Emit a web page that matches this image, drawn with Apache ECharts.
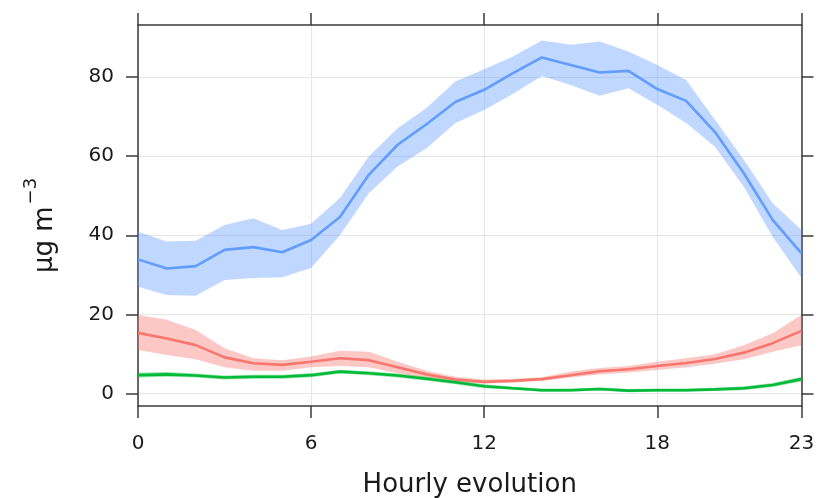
<!DOCTYPE html>
<html>
<head>
<meta charset="utf-8">
<script src="https://cdn.jsdelivr.net/npm/echarts@6/dist/echarts.min.js"></script>
<style>html,body{margin:0;padding:0;background:#fff;}#c{width:821px;height:498px;}</style>
</head>
<body>
<div id="c"></div>
<script>
const hours = [0,1,2,3,4,5,6,7,8,9,10,11,12,13,14,15,16,17,18,19,20,21,22,23];
const xTicks = [0,6,12,18,23];
const yTicks = [0,20,40,60,80];

const blueMean  = [33.9,31.6,32.2,36.3,37.0,35.7,38.8,44.6,55.3,62.9,68.1,73.7,76.8,81.0,85.0,83.1,81.2,81.6,77.0,74.0,66.1,55.7,43.9,35.4];
const blueUpper = [40.9,38.4,38.6,42.6,44.3,41.3,42.9,49.4,59.9,67.1,72.2,78.9,82.0,85.2,89.3,88.2,89.0,86.5,83.1,79.3,69.2,59.1,48.1,41.3];
const blueLower = [27.0,24.9,24.7,28.7,29.2,29.4,31.7,40.0,50.6,57.4,62.0,68.4,71.7,75.8,80.3,78.0,75.3,77.2,73.0,68.4,62.4,52.3,39.6,29.2];

const redMean  = [15.3,13.9,12.2,9.1,7.6,7.2,8.0,8.9,8.4,6.6,4.8,3.5,2.9,3.2,3.6,4.6,5.6,6.1,6.9,7.7,8.7,10.3,12.7,15.8];
const redUpper = [19.8,18.6,16.0,11.4,8.9,8.4,9.3,10.8,10.5,8.0,5.7,4.2,3.5,3.7,4.1,5.5,6.4,6.9,8.0,8.9,9.9,12.2,15.2,19.8];
const redLower = [11.0,9.7,8.6,6.6,5.7,5.7,6.6,6.9,6.6,5.1,3.8,2.9,2.5,2.7,3.2,4.0,4.8,5.3,5.9,6.6,7.5,8.6,10.5,12.2];

const greenMean  = [4.6,4.8,4.5,4.0,4.2,4.2,4.6,5.5,5.1,4.5,3.7,2.8,1.8,1.3,0.8,0.8,1.1,0.7,0.8,0.8,1.0,1.3,2.1,3.6];
const greenUpper = [5.2,5.4,5.0,4.5,4.7,4.7,5.1,6.0,5.6,5.0,4.2,3.3,2.3,1.7,1.2,1.2,1.5,1.1,1.2,1.2,1.4,1.8,2.6,4.2];
const greenLower = [4.0,4.2,4.0,3.5,3.7,3.7,4.1,5.0,4.6,4.0,3.2,2.3,1.3,0.9,0.4,0.4,0.7,0.3,0.4,0.4,0.6,0.8,1.6,3.0];

const pairs = (arr) => hours.map((h, i) => [h, arr[i]]);

function band(name, lo, up, color) {
  const data = hours.map((h, i) => [h, lo[i], up[i]]);
  return {
    name: name + 'band', type: 'custom', silent: true, z: 1,
    data: data,
    encode: { x: 0, y: [1, 2] },
    renderItem: function (params, api) {
      if (params.dataIndex !== 0) return null;
      const top = [], bot = [];
      for (let i = 0; i < hours.length; i++) {
        top.push(api.coord([hours[i], up[i]]));
        bot.push(api.coord([hours[i], lo[i]]));
      }
      const pts = top.concat(bot.reverse());
      return { type: 'polygon', shape: { points: pts }, style: { fill: color } };
    }
  };
}
function line(name, mean, color) {
  return { name: name, type: 'line', data: pairs(mean), symbol: 'none',
    lineStyle: { color: color, width: 2.6 }, z: 3 };
}

const axisCol = '#3a3a3a';
const txt = '#1a1a1a';
const FONT = 'DejaVu Sans';
const chart = echarts.init(document.getElementById('c'), null, { renderer: 'canvas' });
chart.setOption({
  animation: false,
  backgroundColor: '#fff',
  grid: { left: 138, right: 19.5, top: 25, bottom: 92, containLabel: false, outerBoundsMode: 'none' },
  xAxis: [
    { type: 'value', min: 0, max: 23, position: 'bottom', interval: 6,
      name: 'Hourly evolution', nameLocation: 'middle', nameGap: 66,
      nameTextStyle: { fontFamily: FONT, fontSize: 26, color: txt },
      axisLine: { show: true, onZero: false, lineStyle: { color: axisCol, width: 1.5 } },
      axisTick: { show: true, length: 12, customValues: xTicks, lineStyle: { color: axisCol, width: 1.5 } },
      axisLabel: { customValues: xTicks, margin: 28, fontFamily: FONT, fontSize: 20, color: txt },
      splitLine: { show: true, lineStyle: { color: '#e6e6e6', width: 1.2 } }
    },
    { type: 'value', min: 0, max: 23, position: 'top',
      axisLine: { show: true, onZero: false, lineStyle: { color: axisCol, width: 1.5 } },
      axisTick: { show: true, length: 12, customValues: xTicks, lineStyle: { color: axisCol, width: 1.5 } },
      axisLabel: { show: false },
      splitLine: { show: false }
    }
  ],
  yAxis: [
    { type: 'value', min: -3.2, max: 93.2, position: 'left',
      name: '{a|µg m}{s|−3}', nameLocation: 'middle', nameGap: 80, nameRotate: 90,
      nameTextStyle: { padding: [0, 20, 0, 0], rich: {
        a: { fontFamily: FONT, fontSize: 26, color: txt, verticalAlign: 'bottom' },
        s: { fontFamily: FONT, fontSize: 18, color: txt, verticalAlign: 'top', padding: [0,0,18,2] }
      } },
      axisLine: { show: true, onZero: false, lineStyle: { color: axisCol, width: 1.5 } },
      axisTick: { show: true, length: 12, customValues: yTicks, lineStyle: { color: axisCol, width: 1.5 } },
      axisLabel: { customValues: yTicks, margin: 24, fontFamily: FONT, fontSize: 20, color: txt },
      splitLine: { show: true, lineStyle: { color: '#e6e6e6', width: 1.2 } }
    },
    { type: 'value', min: -3.2, max: 93.2, position: 'right',
      axisLine: { show: true, onZero: false, lineStyle: { color: axisCol, width: 1.5 } },
      axisTick: { show: true, length: 12, customValues: yTicks, lineStyle: { color: axisCol, width: 1.5 } },
      axisLabel: { show: false },
      splitLine: { show: false }
    }
  ],
  series: [
    band('blue', blueLower, blueUpper, 'rgba(97,156,255,0.4)'),
    band('red', redLower, redUpper, 'rgba(248,118,109,0.4)'),
    band('green', greenLower, greenUpper, 'rgba(0,186,56,0.4)'),
    line('blue', blueMean, '#619CFF'),
    line('red', redMean, '#F8766D'),
    line('green', greenMean, '#00BA38')
  ]
});
</script>
</body>
</html>
